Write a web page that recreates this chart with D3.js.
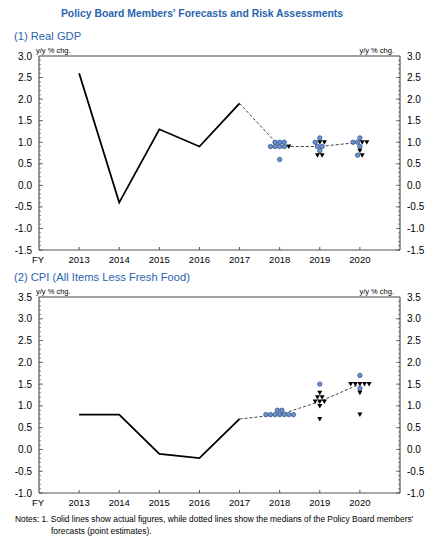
<!DOCTYPE html>
<html>
<head>
<meta charset="utf-8">
<script src="https://cdn.jsdelivr.net/npm/d3@7"></script>
<style>
  body { margin: 0; background: #fff; }
  text { font-family: "Liberation Sans", Arial, sans-serif; }
</style>
</head>
<body>
<svg id="chart" width="442" height="540"></svg>
<script>
// Fiscal years on the x axis
const years = [2013, 2014, 2015, 2016, 2017, 2018, 2019, 2020];

// Real GDP: actual figures (FY2013-2017) and forecast medians (FY2017-2020)
const gdpActualYears = [2013, 2014, 2015, 2016, 2017];
const gdpActual = [2.6, -0.4, 1.3, 0.9, 1.9];
const gdpMedianYears = [2017, 2018, 2019, 2020];
const gdpMedian = [1.9, 0.9, 0.9, 1.0];

// CPI (all items less fresh food)
const cpiActualYears = [2013, 2014, 2015, 2016, 2017];
const cpiActual = [0.8, 0.8, -0.1, -0.2, 0.7];
const cpiMedianYears = [2017, 2018, 2019, 2020];
const cpiMedian = [0.7, 0.8, 1.1, 1.5];

// Members' point estimates: [year, value, risk] ; "b" balanced, "d" downside
const gdpMembers = [
    [2018, 1.0, "b"], [2018, 1.0, "b"], [2018, 1.0, "b"],
    [2018, 0.9, "b"], [2018, 0.9, "b"], [2018, 0.9, "b"], [2018, 0.9, "b"], [2018, 0.9, "d"],
    [2018, 0.6, "b"],
    [2019, 1.1, "b"],
    [2019, 1.0, "b"], [2019, 1.0, "d"], [2019, 1.0, "d"],
    [2019, 0.9, "b"], [2019, 0.9, "b"],
    [2019, 0.8, "b"],
    [2019, 0.7, "d"], [2019, 0.7, "d"],
    [2020, 1.1, "b"],
    [2020, 1.0, "b"], [2020, 1.0, "b"], [2020, 1.0, "d"], [2020, 1.0, "d"],
    [2020, 0.9, "b"],
    [2020, 0.8, "d"],
    [2020, 0.7, "b"], [2020, 0.7, "d"]
];
const cpiMembers = [
    [2018, 0.9, "b"], [2018, 0.9, "b"],
    [2018, 0.8, "b"], [2018, 0.8, "b"], [2018, 0.8, "b"], [2018, 0.8, "b"],
    [2018, 0.8, "b"], [2018, 0.8, "b"], [2018, 0.8, "b"],
    [2019, 1.5, "b"],
    [2019, 1.3, "d"],
    [2019, 1.2, "d"], [2019, 1.2, "d"],
    [2019, 1.1, "d"], [2019, 1.1, "d"], [2019, 1.1, "d"],
    [2019, 1.0, "d"],
    [2019, 0.7, "d"],
    [2020, 1.7, "b"],
    [2020, 1.5, "d"], [2020, 1.5, "d"], [2020, 1.5, "d"], [2020, 1.5, "d"], [2020, 1.5, "d"],
    [2020, 1.4, "b"],
    [2020, 1.3, "d"],
    [2020, 0.8, "d"]
];

const blue = "#2a64b0";
const svg = d3.select("#chart");

svg.append("text")
    .attr("x", 202).attr("y", 17)
    .attr("text-anchor", "middle")
    .attr("font-size", "10.4px")
    .attr("font-weight", "bold")
    .attr("fill", blue)
    .text("Policy Board Members' Forecasts and Risk Assessments");

// x scale shared by both panels
const x = d3.scaleLinear().domain([2012, 2021]).range([39, 400]);

function drawPanel(opt) {
    const y = d3.scaleLinear().domain(opt.domain).range([opt.bottom, opt.top]);
    const g = svg.append("g");

    g.append("text")
        .attr("x", 14).attr("y", opt.top - 16)
        .attr("font-size", "11.2px")
        .attr("fill", blue)
        .text(opt.title);

    g.append("text")
        .attr("x", 36).attr("y", opt.top - 3)
        .attr("font-size", "7.5px")
        .text("y/y % chg.");
    g.append("text")
        .attr("x", 394).attr("y", opt.top - 3)
        .attr("text-anchor", "end")
        .attr("font-size", "7.5px")
        .text("y/y % chg.");

    // minor and major ticks on both sides
    const minor = d3.range(Math.round(opt.domain[0] * 10), Math.round(opt.domain[1] * 10) + 1).map(d => d / 10);
    const major = d3.range(Math.round(opt.domain[0] * 2), Math.round(opt.domain[1] * 2) + 1).map(d => d / 2);

    g.selectAll(".minorL").data(minor).enter().append("line")
        .attr("x1", x.range()[0]).attr("x2", x.range()[0] + 2)
        .attr("y1", d => y(d)).attr("y2", d => y(d))
        .attr("stroke", "#555").attr("stroke-width", 0.7);
    g.selectAll(".minorR").data(minor).enter().append("line")
        .attr("x1", x.range()[1]).attr("x2", x.range()[1] - 2)
        .attr("y1", d => y(d)).attr("y2", d => y(d))
        .attr("stroke", "#555").attr("stroke-width", 0.7);
    g.selectAll(".majorL").data(major).enter().append("line")
        .attr("x1", x.range()[0]).attr("x2", x.range()[0] + 4)
        .attr("y1", d => y(d)).attr("y2", d => y(d))
        .attr("stroke", "#555").attr("stroke-width", 0.8);
    g.selectAll(".majorR").data(major).enter().append("line")
        .attr("x1", x.range()[1]).attr("x2", x.range()[1] - 4)
        .attr("y1", d => y(d)).attr("y2", d => y(d))
        .attr("stroke", "#555").attr("stroke-width", 0.8);

    g.selectAll(".labL").data(major).enter().append("text")
        .attr("x", 32).attr("y", d => y(d) + 3.5)
        .attr("text-anchor", "end")
        .attr("font-size", "10px")
        .text(d => d3.format(".1f")(d).replace("−", "-"));
    g.selectAll(".labR").data(major).enter().append("text")
        .attr("x", 407).attr("y", d => y(d) + 3.5)
        .attr("font-size", "10px")
        .text(d => d3.format(".1f")(d).replace("−", "-"));

    // frame
    g.append("line")
        .attr("x1", x.range()[0]).attr("x2", x.range()[1])
        .attr("y1", opt.top).attr("y2", opt.top)
        .attr("stroke", "#a0a0a0").attr("stroke-width", 2);
    g.append("line")
        .attr("x1", x.range()[0]).attr("x2", x.range()[1])
        .attr("y1", opt.bottom).attr("y2", opt.bottom)
        .attr("stroke", "#555").attr("stroke-width", 1.2);
    [x.range()[0], x.range()[1]].forEach(px => {
        g.append("line")
            .attr("x1", px).attr("x2", px)
            .attr("y1", opt.top).attr("y2", opt.bottom)
            .attr("stroke", "#555").attr("stroke-width", 1.2);
    });

    // year ticks and labels
    g.selectAll(".xt").data(years).enter().append("line")
        .attr("x1", d => x(d)).attr("x2", d => x(d))
        .attr("y1", opt.bottom).attr("y2", opt.bottom - 3)
        .attr("stroke", "#555");
    g.selectAll(".xl").data(years).enter().append("text")
        .attr("x", d => x(d)).attr("y", opt.bottom + 13)
        .attr("text-anchor", "middle")
        .attr("font-size", "9.5px")
        .text(d => d);
    g.append("text")
        .attr("x", 38).attr("y", opt.bottom + 13)
        .attr("text-anchor", "middle")
        .attr("font-size", "9.5px")
        .text("FY");

    // actual line
    const line = d3.line().x(d => x(d[0])).y(d => y(d[1]));
    g.append("path")
        .datum(d3.zip(opt.actualYears, opt.actual))
        .attr("fill", "none")
        .attr("stroke", "#000")
        .attr("stroke-width", 1.8)
        .attr("d", line);

    // median line
    g.append("path")
        .datum(d3.zip(opt.medianYears, opt.median))
        .attr("fill", "none")
        .attr("stroke", "#444")
        .attr("stroke-width", 1)
        .attr("stroke-dasharray", "3,2")
        .attr("d", line);

    // members' forecasts: spread markers sharing the same value
    const rows = d3.groups(opt.members, d => d[0], d => d[1]);
    const spacing = 4.6;
    rows.forEach(([year, byVal]) => {
        byVal.forEach(([val, items]) => {
            const sorted = items.slice().sort((a, b) => d3.ascending(a[2], b[2]));
            const n = sorted.length;
            sorted.forEach((d, i) => {
                const cx = x(year) + (i - (n - 1) / 2) * spacing;
                const cy = y(val);
                if (d[2] === "b") {
                    g.append("circle")
                        .attr("cx", cx).attr("cy", cy).attr("r", 2.2)
                        .attr("fill", "#6c92cc")
                        .attr("stroke", "#34578f")
                        .attr("stroke-width", 0.8);
                } else {
                    g.append("path")
                        .attr("transform", `translate(${cx},${cy})`)
                        .attr("d", "M-2.5,-2L2.5,-2L0,2.5Z")
                        .attr("fill", "#000");
                }
            });
        });
    });
}

drawPanel({
    title: "(1) Real GDP",
    domain: [-1.5, 3.0],
    top: 56, bottom: 250,
    actualYears: gdpActualYears, actual: gdpActual,
    medianYears: gdpMedianYears, median: gdpMedian,
    members: gdpMembers
});

drawPanel({
    title: "(2) CPI (All Items Less Fresh Food)",
    domain: [-1.0, 3.5],
    top: 297, bottom: 493,
    actualYears: cpiActualYears, actual: cpiActual,
    medianYears: cpiMedianYears, median: cpiMedian,
    members: cpiMembers
});

svg.append("text")
    .attr("x", 15).attr("y", 522)
    .attr("font-size", "8.4px")
    .text("Notes: 1. Solid lines show actual figures, while dotted lines show the medians of the Policy Board members'");
svg.append("text")
    .attr("x", 51).attr("y", 534)
    .attr("font-size", "8.4px")
    .text("forecasts (point estimates).");
</script>
</body>
</html>
